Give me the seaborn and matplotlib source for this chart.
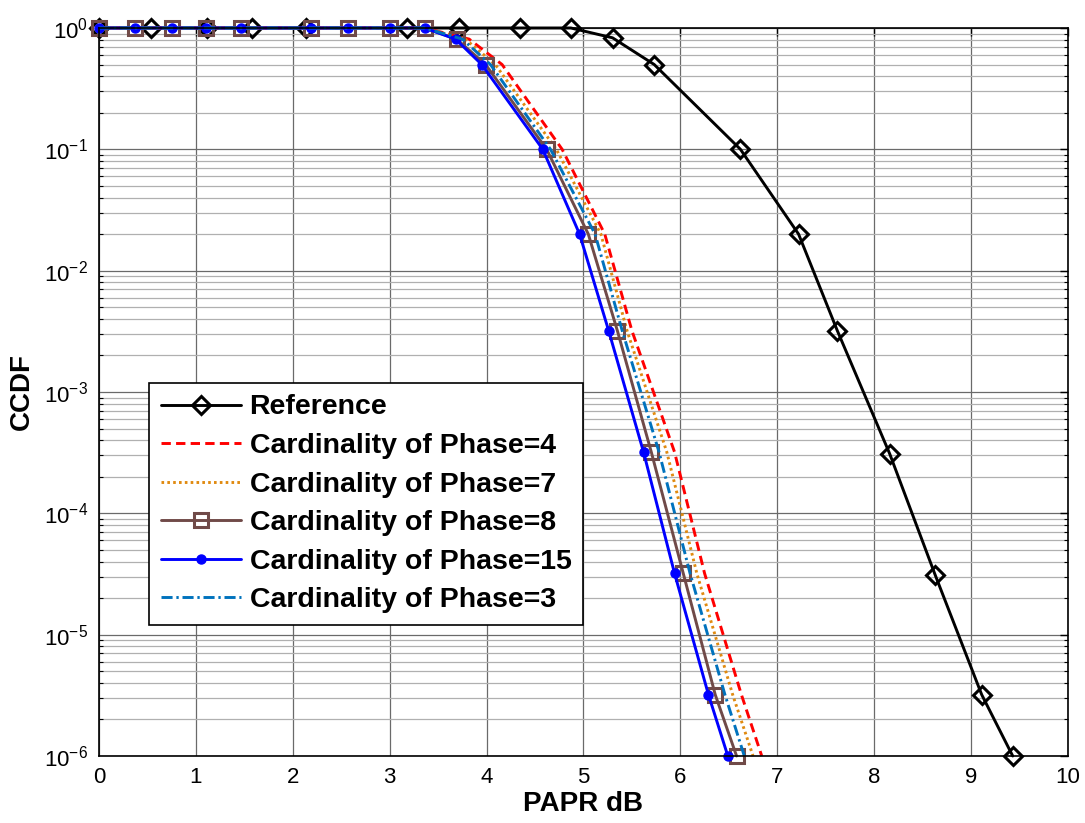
import numpy as np
import pandas as pd
import matplotlib
matplotlib.use("Agg")
import matplotlib.pyplot as plt
from matplotlib.ticker import LogLocator, NullFormatter, FixedLocator
import seaborn as sns

# ---------------- data ----------------
ref_x = [0.0, 0.54, 1.11, 1.58, 2.14, 3.18, 3.72, 4.35, 4.87, 5.30, 5.73, 6.62, 7.22, 7.62, 8.16, 8.63, 9.11, 9.43]
ref_y = [1, 1, 1, 1, 1, 1, 1, 1, 1, 0.83, 0.5, 0.1, 0.02, 3.2e-3, 3.1e-4, 3.1e-5, 3.2e-6, 1e-6]

flat_x = [0.0, 0.37, 0.75, 1.10, 1.47, 2.19, 2.57, 3.00, 3.36]
tail_y = [0.81, 0.5, 0.1, 0.02, 3.2e-3, 3.2e-4, 3.2e-5, 3.2e-6, 1e-6]

p4_tail = [3.82, 4.16, 4.78, 5.22, 5.50, 5.94, 6.25, 6.63, 6.84]
p7_tail = [3.78, 4.09, 4.72, 5.18, 5.45, 5.86, 6.17, 6.54, 6.75]
p8_tail = [3.69, 3.99, 4.62, 5.05, 5.35, 5.70, 6.03, 6.36, 6.58]
p15_tail = [3.68, 3.95, 4.58, 4.96, 5.26, 5.62, 5.94, 6.29, 6.49]
p3_tail = [3.75, 4.04, 4.66, 5.12, 5.40, 5.78, 6.10, 6.46, 6.66]

labels = ["Reference",
          "Cardinality of Phase=4",
          "Cardinality of Phase=7",
          "Cardinality of Phase=8",
          "Cardinality of Phase=15",
          "Cardinality of Phase=3"]

x_ticks = list(range(0, 11))
y_tick_exps = [0, -1, -2, -3, -4, -5, -6]

# ---------------- styling ----------------
sns.set_theme(style="white")
plt.rcParams["font.family"] = ["Liberation Sans", "DejaVu Sans"]
plt.rcParams["mathtext.fontset"] = "custom"
plt.rcParams["mathtext.rm"] = "Liberation Sans"
plt.rcParams["mathtext.default"] = "regular"
plt.rcParams["text.color"] = "black"
plt.rcParams["axes.labelcolor"] = "black"
plt.rcParams["xtick.color"] = "black"
plt.rcParams["ytick.color"] = "black"

fig = plt.figure(figsize=(10.85, 8.23), dpi=100)
ax = fig.add_axes([0.0912, 0.0814, 0.8931, 0.8846])

def series(xs, ys):
    return pd.DataFrame({"x": xs, "y": ys})

ones = [1.0] * len(flat_x)
specs = [
    (series(ref_x, ref_y), labels[0], dict(color="black", linestyle="-", marker="D", markersize=9,
                                           markerfacecolor="none", markeredgecolor="black", markeredgewidth=2.2)),
    (series(flat_x + p4_tail, ones + tail_y), labels[1], dict(color="#FF0000", linestyle=(0, (3.2, 1.8)))),
    (series(flat_x + p7_tail, ones + tail_y), labels[2], dict(color="#E08A10", linestyle=(0, (0.9, 1.1)))),
    (series(flat_x + p8_tail, ones + tail_y), labels[3], dict(color="#704A48", linestyle="-", marker="s", markersize=10,
                                                              markerfacecolor="none", markeredgecolor="#704A48", markeredgewidth=2.2)),
    (series(flat_x + p15_tail, ones + tail_y), labels[4], dict(color="#0000FF", linestyle="-", marker="o", markersize=6.5,
                                                               markerfacecolor="#0000FF", markeredgecolor="#0000FF", markeredgewidth=1)),
    (series(flat_x + p3_tail, ones + tail_y), labels[5], dict(color="#0072BD", linestyle=(0, (3.8, 1.3, 0.8, 1.3)))),
]

for df, lab, kw in specs:
    sns.lineplot(data=df, x="x", y="y", ax=ax, sort=False, estimator=None,
                 linewidth=2.1, label=lab, clip_on=False, **kw)

ax.set_yscale("log")
ax.set_xlim(0, 10)
ax.set_ylim(1e-6, 1.0)

ax.xaxis.set_major_locator(FixedLocator(x_ticks))
ax.set_xticklabels([str(t) for t in x_ticks])
ax.yaxis.set_major_locator(FixedLocator([10.0 ** e for e in y_tick_exps]))
ax.set_yticklabels([r"$10^{%d}$" % e for e in y_tick_exps])
ax.yaxis.set_minor_locator(LogLocator(base=10, subs=np.arange(2, 10), numticks=20))
ax.yaxis.set_minor_formatter(NullFormatter())

ax.grid(True, which="major", axis="both", color="#6a6a6a", linewidth=0.9)
ax.grid(True, which="minor", axis="y", color="#b0b0b0", linewidth=0.9)
ax.set_axisbelow(True)

ax.tick_params(axis="both", which="major", direction="in", length=6, width=1,
               top=True, right=True, labelsize=16, pad=8, colors="black")
ax.tick_params(axis="y", which="minor", direction="in", length=3, width=0.8,
               left=True, right=True)
for s in ax.spines.values():
    s.set_color("black")
    s.set_linewidth(1.2)
    s.set_visible(True)

ax.set_xlabel("PAPR dB", fontsize=20, fontweight="bold", labelpad=2, color="black")
ax.set_ylabel("CCDF", fontsize=20, fontweight="bold", labelpad=6, color="black")

handles, labs = ax.get_legend_handles_labels()
leg = ax.legend(handles, labs, loc="upper left", bbox_to_anchor=(0.052, 0.513),
                prop={"weight": "bold", "size": 20.5}, frameon=True, fancybox=False,
                edgecolor="black", framealpha=1, handlelength=2.8, handletextpad=0.3,
                labelspacing=0.44, borderpad=0.42, borderaxespad=0, labelcolor="black")
leg.get_frame().set_linewidth(1.2)

fig.savefig("out.png", dpi=100)
